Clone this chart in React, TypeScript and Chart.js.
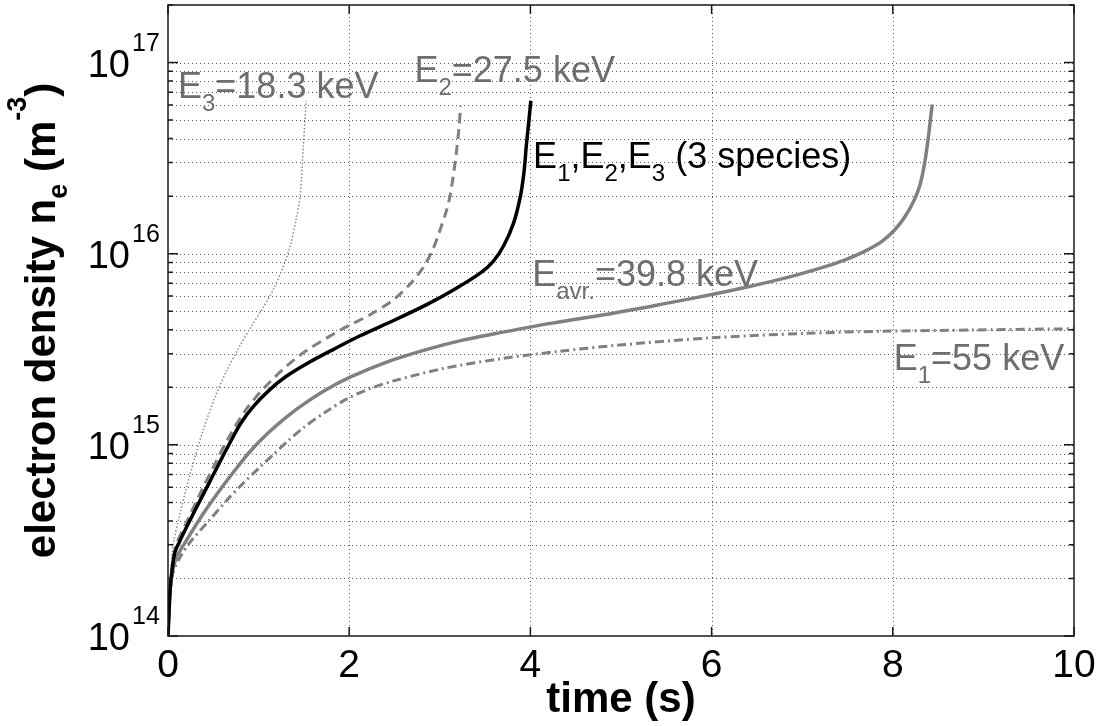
import React, { useEffect, useRef } from "react";
import { Chart, registerables } from "chart.js";

Chart.register(...registerables);

// ---------- data (time in s, electron density in m^-3) ----------
const timeThreeSpecies = [0, 0.01, 0.025, 0.05, 0.077, 0.133, 0.28, 0.464, 0.649, 0.8, 0.943, 1.127, 1.31, 1.569, 1.827, 2.12, 2.49, 2.86, 3.15, 3.45, 3.59, 3.705, 3.815, 3.89, 3.93, 3.956, 3.98, 4.005];
const densityThreeSpecies = [1.0e14, 1.3e14, 1.8e14, 2.3e14, 2.75e14, 3.16e14, 4.37e14, 6.46e14, 9.55e14, 1.29e15, 1.59e15, 1.95e15, 2.29e15, 2.72e15, 3.16e15, 3.72e15, 4.47e15, 5.43e15, 6.46e15, 7.94e15, 9.12e15, 1.1e16, 1.45e16, 2.0e16, 2.69e16, 3.72e16, 4.79e16, 6.31e16];

const timeE2 = [0, 0.01, 0.025, 0.05, 0.096, 0.19, 0.354, 0.497, 0.649, 0.87, 1.127, 1.459, 1.9, 2.23, 2.49, 2.67, 2.82, 2.93, 3.0, 3.07, 3.116, 3.17, 3.21, 3.23];
const densityE2 = [1.0e14, 1.3e14, 1.85e14, 2.4e14, 3.05e14, 3.8e14, 5.56e14, 7.59e14, 1.05e15, 1.55e15, 2.14e15, 2.95e15, 3.98e15, 4.79e15, 5.75e15, 6.92e15, 8.51e15, 1.07e16, 1.32e16, 1.66e16, 2.04e16, 3.02e16, 4.47e16, 5.89e16];

const timeE3 = [0, 0.01, 0.025, 0.06, 0.133, 0.206, 0.3, 0.39, 0.52, 0.649, 0.796, 0.906, 1.04, 1.16, 1.27, 1.35, 1.41, 1.46, 1.495, 1.525];
const densityE3 = [1.0e14, 1.35e14, 1.95e14, 3.05e14, 4.37e14, 6.03e14, 8.71e14, 1.2e15, 1.78e15, 2.45e15, 3.31e15, 4.07e15, 5.13e15, 6.46e15, 8.51e15, 1.1e16, 1.48e16, 2.04e16, 3.74e16, 6.31e16];

const timeAvr = [0, 0.01, 0.025, 0.05, 0.096, 0.19, 0.39, 0.575, 0.76, 0.906, 1.09, 1.27, 1.459, 1.735, 2.01, 2.45, 2.86, 3.23, 3.59, 4.22, 4.93, 5.44, 5.99, 6.43, 6.83, 7.2, 7.46, 7.7, 7.88, 8.02, 8.13, 8.23, 8.3, 8.35, 8.39, 8.41, 8.435];
const densityAvr = [1.0e14, 1.3e14, 1.75e14, 2.2e14, 2.59e14, 3.09e14, 4.37e14, 5.82e14, 7.59e14, 9.23e14, 1.135e15, 1.35e15, 1.585e15, 1.93e15, 2.26e15, 2.75e15, 3.16e15, 3.51e15, 3.8e15, 4.32e15, 4.9e15, 5.43e15, 6.1e15, 6.76e15, 7.5e15, 8.41e15, 9.23e15, 1.035e16, 1.16e16, 1.33e16, 1.55e16, 1.88e16, 2.29e16, 2.95e16, 3.98e16, 4.79e16, 6.03e16];

const timeE1 = [0, 0.01, 0.025, 0.05, 0.114, 0.243, 0.464, 0.649, 0.832, 1.017, 1.164, 1.326, 1.495, 1.735, 1.975, 2.23, 2.49, 3.04, 3.67, 4.33, 4.93, 5.99, 7.04, 7.88, 8.93, 10.0];
const densityE1 = [1.0e14, 1.3e14, 1.7e14, 2.1e14, 2.49e14, 3.09e14, 4.07e14, 5.13e14, 6.31e14, 7.67e14, 8.91e14, 1.05e15, 1.23e15, 1.48e15, 1.74e15, 1.97e15, 2.16e15, 2.51e15, 2.82e15, 3.09e15, 3.31e15, 3.63e15, 3.83e15, 3.93e15, 3.99e15, 4.05e15];

// ---------- axes ----------
const xMin = 0;
const xMax = 10;
const yMin = 1e14;
const yMax = 2e17;
const xTickValues = [0, 2, 4, 6, 8, 10];
const xGridValues = [2, 4, 6, 8];
const yDecadeExponents = [14, 15, 16, 17];
const yMinorMultipliers = [2, 3, 4, 5, 6, 7, 8, 9];
const xTitle = "time (s)";

// ---------- in-plot labels (anchored at data coordinates: left edge, baseline) ----------
type Run = { text: string; kind?: "sub" | "sup" };
const curveLabels: { runs: Run[]; t: number; n: number; color: string }[] = [
  { runs: [{ text: "E" }, { text: "3", kind: "sub" }, { text: "=18.3 keV" }], t: 0.11, n: 6.55e16, color: "#6e6e6e" },
  { runs: [{ text: "E" }, { text: "2", kind: "sub" }, { text: "=27.5 keV" }], t: 2.72, n: 7.9e16, color: "#6e6e6e" },
  {
    runs: [
      { text: "E" }, { text: "1", kind: "sub" }, { text: "," },
      { text: "E" }, { text: "2", kind: "sub" }, { text: "," },
      { text: "E" }, { text: "3", kind: "sub" }, { text: " (3 species)" },
    ],
    t: 4.03, n: 2.81e16, color: "#000000",
  },
  { runs: [{ text: "E" }, { text: "avr.", kind: "sub" }, { text: "=39.8 keV" }], t: 4.02, n: 6.8e15, color: "#6e6e6e" },
  { runs: [{ text: "E" }, { text: "1", kind: "sub" }, { text: "=55 keV" }], t: 8.01, n: 2.45e15, color: "#6e6e6e" },
];

const FONT = "'Liberation Sans', Arial, Helvetica, sans-serif";

function zip(ts: number[], ns: number[]) {
  return ts.map((t, i) => ({ x: t, y: ns[i] }));
}

function drawRuns(
  ctx: CanvasRenderingContext2D,
  runs: Run[],
  x: number,
  y: number,
  opts: { size: number; small: number; bold: boolean; subOff: number; supOff: number; align: "left" | "center" | "right" }
) {
  const fontFor = (r: Run) => `${opts.bold ? "bold " : ""}${r.kind ? opts.small : opts.size}px ${FONT}`;
  let total = 0;
  const widths: number[] = [];
  for (const r of runs) {
    ctx.font = fontFor(r);
    const w = ctx.measureText(r.text).width;
    widths.push(w);
    total += w;
  }
  let cx = opts.align === "center" ? x - total / 2 : opts.align === "right" ? x - total : x;
  ctx.textAlign = "left";
  ctx.textBaseline = "alphabetic";
  runs.forEach((r, i) => {
    ctx.font = fontFor(r);
    const dy = r.kind === "sub" ? opts.subOff : r.kind === "sup" ? opts.supOff : 0;
    ctx.fillText(r.text, cx, y + dy);
    cx += widths[i];
  });
}

const gridPlugin = {
  id: "matlabGrid",
  beforeDatasetsDraw(chart: any) {
    const { ctx, chartArea } = chart;
    const xs = chart.scales.x;
    const ys = chart.scales.y;
    ctx.save();
    ctx.strokeStyle = "#5a5a5a";
    ctx.lineWidth = 1;
    ctx.setLineDash([1, 3]);
    for (const v of xGridValues) {
      const px = Math.round(xs.getPixelForValue(v)) + 0.5;
      ctx.beginPath();
      ctx.moveTo(px, chartArea.top);
      ctx.lineTo(px, chartArea.bottom);
      ctx.stroke();
    }
    for (const e of yDecadeExponents) {
      for (const m of [1, ...yMinorMultipliers]) {
        const v = m * Math.pow(10, e);
        if (v <= yMin || v >= yMax) continue;
        const py = Math.round(ys.getPixelForValue(v)) + 0.5;
        ctx.beginPath();
        ctx.moveTo(chartArea.left, py);
        ctx.lineTo(chartArea.right, py);
        ctx.stroke();
      }
    }
    ctx.restore();
  },
};

const framePlugin = {
  id: "matlabFrame",
  afterDraw(chart: any) {
    const { ctx, chartArea } = chart;
    const xs = chart.scales.x;
    const ys = chart.scales.y;
    const { left, right, top, bottom } = chartArea;
    ctx.save();
    ctx.setLineDash([]);
    ctx.strokeStyle = "#1a1a1a";
    ctx.lineWidth = 1.5;
    ctx.strokeRect(left, top, right - left, bottom - top);

    // ticks (inward)
    for (const v of xTickValues) {
      const px = xs.getPixelForValue(v);
      ctx.beginPath();
      ctx.moveTo(px, bottom);
      ctx.lineTo(px, bottom - 9);
      ctx.moveTo(px, top);
      ctx.lineTo(px, top + 9);
      ctx.stroke();
    }
    for (const e of yDecadeExponents) {
      for (const m of [1, ...yMinorMultipliers]) {
        const v = m * Math.pow(10, e);
        if (v < yMin || v > yMax) continue;
        const py = ys.getPixelForValue(v);
        const len = m === 1 ? 10 : 5;
        ctx.beginPath();
        ctx.moveTo(left, py);
        ctx.lineTo(left + len, py);
        ctx.moveTo(right, py);
        ctx.lineTo(right - len, py);
        ctx.stroke();
      }
    }

    // x tick labels
    ctx.fillStyle = "#000";
    ctx.font = `39px ${FONT}`;
    ctx.textAlign = "center";
    ctx.textBaseline = "alphabetic";
    for (const v of xTickValues) {
      ctx.fillText(String(v), xs.getPixelForValue(v), bottom + 41);
    }

    // y tick labels 10^n
    for (const e of yDecadeExponents) {
      const py = ys.getPixelForValue(Math.pow(10, e));
      ctx.font = `38px ${FONT}`;
      ctx.textAlign = "right";
      ctx.fillText("10", left - 38, py + 14);
      ctx.font = `25px ${FONT}`;
      ctx.textAlign = "left";
      ctx.fillText(String(e), left - 36, py - 12);
    }

    // axis titles
    drawRuns(ctx, [{ text: xTitle }], (left + right) / 2, bottom + 76, {
      size: 42, small: 28, bold: true, subOff: 12, supOff: -18, align: "center",
    });
    ctx.save();
    ctx.translate(55, (top + bottom) / 2);
    ctx.rotate(-Math.PI / 2);
    drawRuns(
      ctx,
      [
        { text: "electron density n" },
        { text: "e", kind: "sub" },
        { text: " (m" },
        { text: "-3", kind: "sup" },
        { text: ")" },
      ],
      0,
      0,
      { size: 42, small: 27, bold: true, subOff: 12, supOff: -29, align: "center" }
    );
    ctx.restore();

    // curve labels
    for (const lab of curveLabels) {
      ctx.fillStyle = lab.color;
      drawRuns(ctx, lab.runs, xs.getPixelForValue(lab.t), ys.getPixelForValue(lab.n), {
        size: 36, small: 24, bold: false, subOff: 13, supOff: -14, align: "left",
      });
    }
    ctx.restore();
  },
};

export default function App() {
  const canvasRef = useRef<HTMLCanvasElement | null>(null);

  useEffect(() => {
    const canvas = canvasRef.current;
    if (!canvas) return;
    const gray = "#808080";
    const chart = new Chart(canvas, {
      type: "line",
      data: {
        datasets: [
          { label: "E1,E2,E3 (3 species)", data: zip(timeThreeSpecies, densityThreeSpecies), borderColor: "#000000", borderWidth: 3.5 },
          { label: "E2=27.5 keV", data: zip(timeE2, densityE2), borderColor: gray, borderWidth: 3, borderDash: [10, 6] },
          { label: "E3=18.3 keV", data: zip(timeE3, densityE3), borderColor: "#8a8a8a", borderWidth: 1.5, borderDash: [1.5, 2] },
          { label: "Eavr.=39.8 keV", data: zip(timeAvr, densityAvr), borderColor: gray, borderWidth: 3.5 },
          { label: "E1=55 keV", data: zip(timeE1, densityE1), borderColor: gray, borderWidth: 3, borderDash: [9, 4, 2, 4] },
        ],
      },
      options: {
        animation: false,
        responsive: false,
        devicePixelRatio: 1,
        layout: { padding: { left: 168, right: 26, top: 5, bottom: 90 } },
        elements: {
          point: { radius: 0, hoverRadius: 0 },
          line: { tension: 0.3, fill: false, borderCapStyle: "butt", borderJoinStyle: "round" },
        },
        plugins: { legend: { display: false }, tooltip: { enabled: false } },
        scales: {
          x: { type: "linear", min: xMin, max: xMax, display: false },
          y: { type: "logarithmic", min: yMin, max: yMax, display: false },
        },
      },
      plugins: [gridPlugin, framePlugin],
    } as any);
    return () => chart.destroy();
  }, []);

  return (
    <div style={{ position: "absolute", left: 0, top: 0, width: 1100, height: 726, background: "#fff" }}>
      <canvas ref={canvasRef} width={1100} height={726} style={{ width: 1100, height: 726, display: "block" }} />
    </div>
  );
}
